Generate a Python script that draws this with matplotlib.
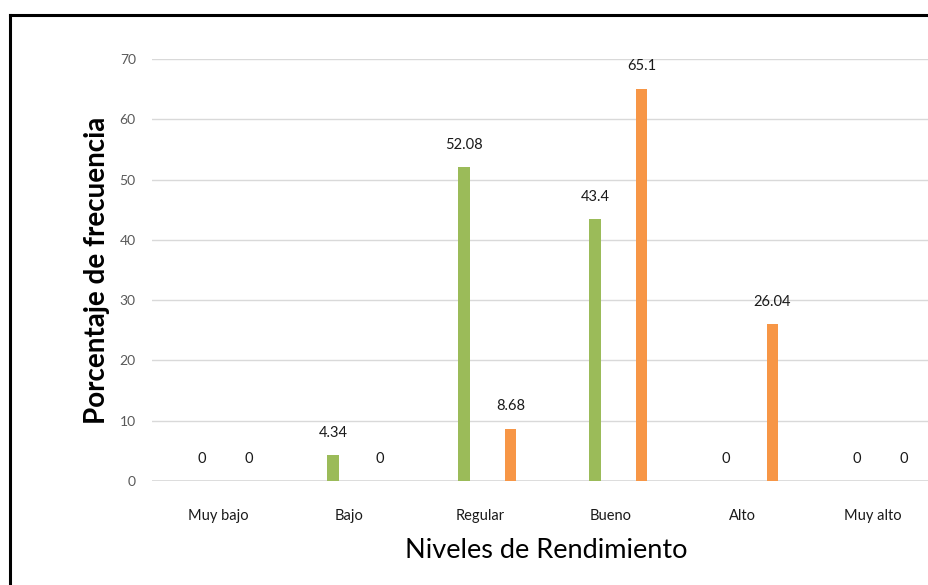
import matplotlib
matplotlib.use("Agg")
import matplotlib.pyplot as plt
import numpy as np
from matplotlib.lines import Line2D

plt.rcParams['font.family'] = ['Lato', 'DejaVu Sans']

categories = ["Muy bajo", "Bajo", "Regular", "Bueno", "Alto", "Muy alto"]
serie_verde = [0, 4.34, 52.08, 43.4, 0, 0]
serie_naranja = [0, 0, 8.68, 65.1, 26.04, 0]
yticks = [0, 10, 20, 30, 40, 50, 60, 70]

W, H = 929, 585
fig = plt.figure(figsize=(W / 100, H / 100), dpi=100)

# plot area in pixel coordinates
left, right = 152.5, 938.5
y0, y70 = 481, 59
ax = fig.add_axes([left / W, (H - y0) / H, (right - left) / W, (y0 - y70) / H])

x = np.arange(len(categories))
bw = 0.09
off_g, off_o = -0.122, 0.233
green = "#9BBB59"
orange = "#F79646"

ax.bar(x + off_g, serie_verde, width=bw, color=green, zorder=3)
ax.bar(x + off_o, serie_naranja, width=bw, color=orange, zorder=3)

for xs, vals in ((x + off_g, serie_verde), (x + off_o, serie_naranja)):
    for xi, v in zip(xs, vals):
        ax.annotate(f"{v:g}", (xi, v), xytext=(0, 16), textcoords="offset points",
                    ha="center", va="center", fontsize=10.5, color="#1a1a1a")

ax.set_xlim(-0.5, len(categories) - 0.5)
ax.set_ylim(0, 70)
ax.set_yticks(yticks)
ax.set_yticklabels([str(t) for t in yticks], fontsize=10, color="#595959")
ax.set_xticks(x)
ax.set_xticklabels(categories, fontsize=10.5, color="#1a1a1a")
ax.tick_params(axis="y", length=0, pad=12)
ax.tick_params(axis="x", length=0, pad=20)

ax.grid(axis="y", color="#D9D9D9", linewidth=1.0, zorder=0)
for s in ax.spines.values():
    s.set_visible(False)
ax.axhline(0, color="#D9D9D9", linewidth=1.2, zorder=1)

fig.text(97 / W, 1 - 270 / H, "Porcentaje de frecuencia", rotation=90,
         ha="center", va="center", fontsize=20, fontweight="bold", color="black")
fig.text(546 / W, 1 - 550 / H, "Niveles de Rendimiento",
         ha="center", va="center", fontsize=19.5, color="black")

# outer frame (left and top edges)
fig.add_artist(Line2D([10.5 / W, 10.5 / W], [0, 1 - 15 / H], color="black",
                      linewidth=2.2, transform=fig.transFigure))
fig.add_artist(Line2D([10.5 / W, 1], [1 - 15 / H, 1 - 15 / H], color="black",
                      linewidth=2.2, transform=fig.transFigure))

fig.savefig("out.png", dpi=100)
